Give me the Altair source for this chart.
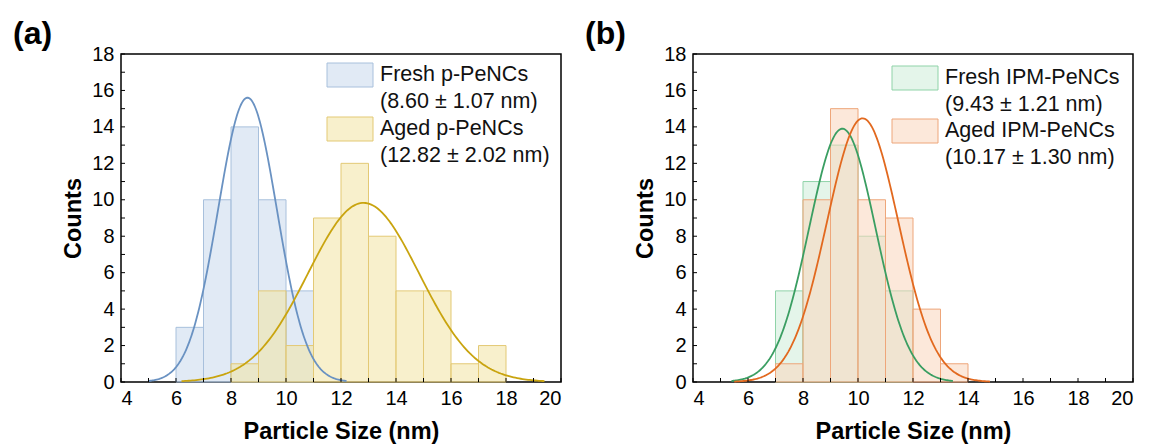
import altair as alt
import pandas as pd
import numpy as np

# ---------------- data ----------------
# panel (a)
fresh_a_bins = [6, 7, 8, 9, 10]
fresh_a_counts = [3, 10, 14, 10, 5]
aged_a_bins = [8, 9, 10, 11, 12, 13, 14, 15, 16, 17]
aged_a_counts = [1, 5, 2, 9, 12, 8, 5, 5, 1, 2]
# panel (b)
fresh_b_bins = [7, 8, 9, 10, 11]
fresh_b_counts = [5, 11, 13, 8, 5]
aged_b_bins = [7, 8, 9, 10, 11, 12, 13]
aged_b_counts = [1, 10, 15, 10, 9, 4, 1]

# Gaussian fits (mean, sd from legend; peak height & drawn range)
fit_names = ["Fresh p-PeNCs", "Aged p-PeNCs", "Fresh IPM-PeNCs", "Aged IPM-PeNCs"]
fit_mean = [8.60, 12.82, 9.43, 10.17]
fit_sd = [1.07, 2.02, 1.21, 1.30]
fit_peak = [15.6, 9.83, 13.9, 14.47]
fit_start = [5.0, 6.2, 5.4, 5.5]
fit_end = [12.2, 19.4, 13.45, 14.8]

legend_a = ["Fresh p-PeNCs", "(8.60 \u00b1 1.07 nm)", "Aged p-PeNCs", "(12.82 \u00b1 2.02 nm)"]
legend_b = ["Fresh IPM-PeNCs", "(9.43 \u00b1 1.21 nm)", "Aged IPM-PeNCs", "(10.17 \u00b1 1.30 nm)"]
panel_labels = ["(a)", "(b)"]

x_major = [4, 6, 8, 10, 12, 14, 16, 18, 20]
x_minor = [5, 7, 9, 11, 13, 15, 17, 19]
y_major = [0, 2, 4, 6, 8, 10, 12, 14, 16, 18]
y_minor = [1, 3, 5, 7, 9, 11, 13, 15, 17]

W, H = 440, 328
FONT = "Liberation Sans"

xscale = alt.Scale(domain=[4, 20], nice=False, zero=False)
yscale = alt.Scale(domain=[0, 18], nice=False)
XAX = alt.Axis(values=x_major, title="Particle Size (nm)", format="d")
YAX = alt.Axis(values=y_major, title="Counts", format="d")


def bars_df(bins, counts):
    return pd.DataFrame({"x0": bins, "x1": [b + 1 for b in bins], "count": counts})


def curve_df(i):
    xs = np.linspace(fit_start[i], fit_end[i], 200)
    ys = fit_peak[i] * np.exp(-((xs - fit_mean[i]) ** 2) / (2 * fit_sd[i] ** 2))
    return pd.DataFrame({"x": xs, "y": ys})


def bar_layer(df, fill, stroke):
    return alt.Chart(df).mark_rect(
        fill=fill, fillOpacity=0.55, stroke=stroke, strokeWidth=1
    ).encode(
        x=alt.X("x0:Q", scale=xscale, axis=XAX),
        x2="x1:Q",
        y=alt.Y("count:Q", scale=yscale, axis=YAX),
        y2=alt.datum(0),
    )


def curve_layer(i, color):
    return alt.Chart(curve_df(i)).mark_line(color=color, strokeWidth=1.8).encode(
        x=alt.X("x:Q", scale=xscale, axis=XAX),
        y=alt.Y("y:Q", scale=yscale, axis=YAX),
    )


def tick_layers():
    xt = pd.DataFrame({"v": x_major + x_minor})
    yt = pd.DataFrame({"v": y_major + y_minor})
    xl = alt.Chart(xt).mark_rule(color="black", strokeWidth=1).encode(
        x=alt.X("v:Q", scale=xscale, axis=XAX),
        y=alt.value(H),
        y2=alt.value(H - 4),
    )
    yl = alt.Chart(yt).mark_rule(color="black", strokeWidth=1).encode(
        y=alt.Y("v:Q", scale=yscale, axis=YAX),
        x=alt.value(0),
        x2=alt.value(4),
    )
    return [xl, yl]


def legend_layers(texts, fills, strokes, sx, tx, ys):
    layers = []
    one = pd.DataFrame({"a": [0]})
    for k in range(2):
        y0 = ys[k]
        layers.append(
            alt.Chart(one).mark_rect(fill=fills[k], fillOpacity=0.55, stroke=strokes[k], strokeWidth=1).encode(
                x=alt.value(sx), x2=alt.value(sx + 46), y=alt.value(y0), y2=alt.value(y0 + 24)
            )
        )
        for j in range(2):
            layers.append(
                alt.Chart(one).mark_text(
                    align="left", baseline="middle", font=FONT, fontSize=21.5, color="#111"
                ).encode(
                    x=alt.value(tx), y=alt.value(y0 + 12 + j * 27),
                    text=alt.value(texts[2 * k + j]),
                )
            )
    return layers


def panel_label(txt):
    one = pd.DataFrame({"a": [0]})
    return alt.Chart(one).mark_text(
        align="left", baseline="alphabetic", font=FONT, fontSize=32, fontWeight="bold", color="black"
    ).encode(x=alt.value(-108), y=alt.value(-10), text=alt.value(txt))


# colours
BLUE_F, BLUE_S, BLUE_L = "#c8d9ec", "#a8c0dc", "#6a92c2"
YEL_F, YEL_S, YEL_L = "#f3e3a3", "#e3c975", "#c9a40f"
GRN_F, GRN_S, GRN_L = "#cdedd9", "#8fd3a8", "#3a9e62"
ORG_F, ORG_S, ORG_L = "#fad5bb", "#eea67a", "#e2691f"

panel_a = alt.layer(
    bar_layer(bars_df(fresh_a_bins, fresh_a_counts), BLUE_F, BLUE_S),
    bar_layer(bars_df(aged_a_bins, aged_a_counts), YEL_F, YEL_S),
    curve_layer(0, BLUE_L),
    curve_layer(1, YEL_L),
    *tick_layers(),
    *legend_layers(legend_a, [BLUE_F, YEL_F], [BLUE_S, YEL_S], 206, 259, [9, 63]),
    panel_label(panel_labels[0]),
).properties(width=W, height=H)

panel_b = alt.layer(
    bar_layer(bars_df(fresh_b_bins, fresh_b_counts), GRN_F, GRN_S),
    bar_layer(bars_df(aged_b_bins, aged_b_counts), ORG_F, ORG_S),
    curve_layer(2, GRN_L),
    curve_layer(3, ORG_L),
    *tick_layers(),
    *legend_layers(legend_b, [GRN_F, ORG_F], [GRN_S, ORG_S], 199, 252, [12, 65]),
    panel_label(panel_labels[1]),
).properties(width=W, height=H)

chart = alt.hconcat(panel_a, panel_b, spacing=132, bounds="flush").properties(
    padding={"left": 12, "top": 17, "right": 5, "bottom": 5},
    background="white",
).configure_view(
    stroke="black", strokeWidth=1.5
).configure_axis(
    grid=False, domain=False, ticks=False,
    labelFont=FONT, labelFontSize=20, labelColor="black",
    titleFont=FONT, titleFontSize=23.5, titleFontWeight="bold", titleColor="black",
).configure_axisX(
    labelPadding=6, titlePadding=11,
).configure_axisY(
    labelPadding=7, titlePadding=6,
)

chart.save("out.html", embed_options={"renderer": "svg", "actions": False})
